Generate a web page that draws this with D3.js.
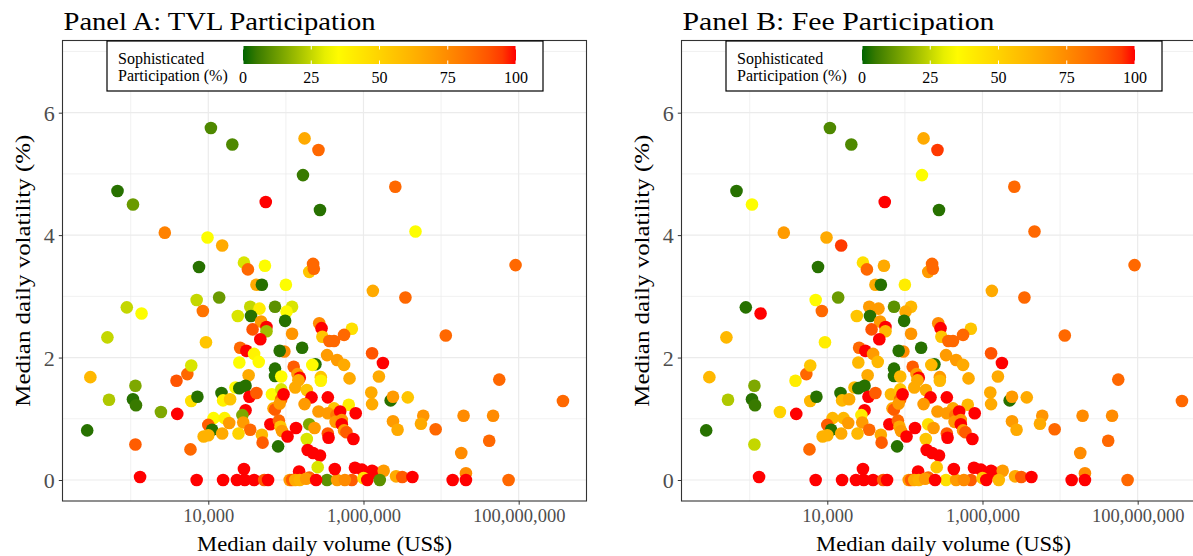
<!DOCTYPE html>
<html><head><meta charset="utf-8">
<script src="https://cdn.jsdelivr.net/npm/d3@7"></script>
<style>body{margin:0;background:#fff;overflow:hidden}svg{display:block}text{font-family:"Liberation Serif","Times New Roman",serif}</style>
</head><body><svg id="c" width="1193" height="556"></svg>
<script>
const volume=[1.08e4,2.04e4,1.74e5,2.63e5,1.66e5,6.76e2,1.07e3,5.50e4,2.75e5,2.57e6,4.68e6,2.75e3,9.77e3,1.51e4,7.59e3,2.88e4,3.24e4,5.37e4,4.17e4,4.90e4,1.00e5,2.00e5,2.24e5,2.29e5,9.12e7,1.32e6,
8.91e2,1.38e3,7.08e3,1.38e4,8.51e3,5.01e2,9.33e3,3.47e4,4.57e4,7.24e4,1.20e5,1.02e5,2.40e4,3.55e4,9.77e4,4.79e4,5.62e4,5.62e4,3.72e4,4.68e4,1.20e5,2.69e5,2.88e5,2.95e5,2.57e4,3.09e4,3.89e4,9.55e4,8.32e4,1.62e5,3.63e5,4.17e5,7.08e5,5.62e5,3.47e6,1.15e7,1.29e6,1.78e6,3.39e5,4.57e5,5.62e5,
4.47e4,2.51e4,1.26e5,7.24e4,7.24e4,8.71e4,1.41e5,1.51e5,2.40e5,2.19e5,2.82e5,2.82e5,3.31e4,1.45e5,1.32e5,3.02e2,1.15e3,5.25e2,1.07e3,1.17e3,2.45e3,3.89e3,5.37e3,6.03e3,6.03e3,7.24e3,3.98e3,1.48e4,1.55e4,1.91e4,2.24e4,2.51e4,3.02e4,3.39e4,4.17e4,6.61e4,8.71e4,8.71e4,6.92e4,7.24e4,8.32e4,9.33e4,1.86e5,2.14e5,3.47e5,1.74e5,6.46e5,1.26e6,1.29e6,2.24e6,2.40e6,3.72e6,3.72e8,5.62e7,1.58e6,6.61e5,2.63e5,4.17e5,3.47e5,4.47e5,5.01e5,7.94e5,3.02e4,2.75e4,1.17e4,1.62e4,
1.00e4,1.12e4,1.86e4,2.82e4,3.47e4,2.45e4,1.51e4,8.71e3,1.00e4,4.90e4,5.01e4,6.31e4,8.13e4,8.51e4,8.91e4,1.05e5,1.35e5,7.94e4,1.86e5,2.00e5,2.34e5,1.91e5,2.24e5,2.75e5,4.37e5,5.25e5,5.25e5,2.40e6,2.75e6,5.89e6,5.50e6,8.51e6,1.95e7,4.68e7,4.17e7,1.82e7,3.47e5,3.55e5,5.62e5,6.03e5,7.41e5,2.75e2,1.15e3,5.89e3,
1.32e3,7.08e3,1.55e4,2.34e4,2.95e4,2.88e4,3.89e4,5.25e4,5.89e4,1.12e5,1.20e5,1.48e5,1.32e5,1.51e5,2.00e5,2.57e5,3.39e5,1.82e5,2.45e5,4.57e5,7.08e5,4.27e5,7.76e5,9.55e5,1.29e6,1.45e6,1.82e6,2.63e6,3.16e6,4.27e6,1.41e7,2.09e7,2.09e7,7.41e7,1.00e6,1.12e6,1.62e6,5.75e5];
const volatility=[5.75,5.48,5.58,5.39,4.98,4.72,4.50,4.54,4.41,4.79,4.06,4.04,3.96,3.83,3.48,3.55,3.44,3.50,3.19,3.19,3.19,3.40,3.53,3.45,3.51,3.09,
2.82,2.72,2.94,2.98,2.76,2.33,2.25,2.83,2.80,2.83,2.83,2.75,2.68,2.68,2.60,2.59,2.50,2.43,2.46,2.30,2.39,2.56,2.48,2.34,2.16,2.11,2.06,2.10,2.11,2.16,2.27,2.27,2.47,2.37,2.98,2.36,2.07,1.91,2.04,1.96,1.88,
1.93,1.92,1.85,1.82,1.70,1.69,1.73,1.67,1.89,1.88,1.68,1.62,1.71,1.63,1.51,1.68,1.54,1.31,1.32,1.22,1.11,1.62,1.73,1.87,1.29,1.36,1.08,1.42,1.30,1.32,1.51,1.50,1.54,1.36,1.42,1.40,1.48,1.32,1.17,1.15,1.25,1.40,1.47,1.35,1.35,1.24,1.23,1.43,1.24,1.30,1.36,1.35,1.29,1.64,1.69,1.66,1.12,1.17,1.09,1.06,1.12,1.09,1.14,1.06,1.01,1.01,
0.90,0.82,0.93,0.94,0.82,0.76,0.76,0.71,0.73,0.74,0.61,0.91,0.97,0.87,0.80,0.71,0.85,0.55,0.67,0.91,0.85,0.49,0.44,0.40,0.95,0.98,0.91,0.96,0.82,1.05,0.92,0.83,1.05,1.05,0.64,0.44,0.76,0.69,0.81,0.78,0.67,0.81,0.58,0.50,
0.05,0,0,0,0,0.18,0,0,0,0,0,0.14,0,0,0.04,0.21,0,0.02,0,0,0,0.18,0.20,0.17,0.15,0.11,0.15,0.06,0.05,0.05,0,0.11,0,0,0.03,0,0,0];
const tvlShare=[8,8,65,85,5,3,12,100,3,85,33,78,33,65,3,28,85,33,65,3,33,55,85,85,85,65,
25,33,25,12,82,25,55,25,40,10,28,35,28,3,3,70,100,20,90,100,72,75,100,55,85,100,38,75,3,3,85,85,45,85,85,85,90,100,70,70,65,
35,33,88,3,3,35,70,100,3,35,55,38,65,65,65,60,15,22,3,5,15,90,85,28,45,3,100,3,38,55,35,3,3,100,88,35,28,85,65,88,70,100,55,100,100,70,40,65,65,3,70,55,85,85,65,65,70,55,70,80,100,100,100,15,35,38,
88,3,70,70,85,50,65,62,62,60,88,100,85,55,70,100,100,3,28,15,70,100,100,100,70,72,100,70,65,72,65,85,75,75,85,75,88,100,70,88,100,3,88,85,
100,100,100,100,100,100,100,88,100,70,88,100,65,62,85,28,10,70,100,70,88,100,100,100,100,100,70,65,88,100,100,75,100,85,45,100,10,75];
const feeShare=[8,8,65,95,33,3,33,100,3,85,85,70,65,95,3,45,85,65,65,3,40,70,85,85,85,65,
3,100,35,12,85,60,40,70,70,10,60,65,55,3,3,70,100,60,90,100,72,75,100,55,85,100,70,75,3,3,85,85,55,85,85,85,90,100,70,70,65,
60,60,88,3,3,60,70,100,3,60,70,60,65,65,65,60,15,22,3,5,50,40,85,55,60,3,100,3,60,65,60,3,3,100,88,60,55,85,65,88,70,100,65,100,100,70,60,65,65,3,70,65,85,85,65,65,70,65,70,80,100,100,100,40,60,60,
88,3,70,70,85,60,65,62,62,65,88,100,85,65,70,100,100,3,55,45,70,100,100,100,70,72,100,70,65,72,65,85,75,75,85,75,88,100,70,88,100,3,25,85,
100,100,100,100,100,100,100,88,100,70,88,100,65,62,85,55,45,70,100,70,88,100,100,100,100,100,70,65,88,100,100,75,100,85,55,100,60,75];
const xTicks=[1e4,1e6,1e8], xMinor=[1e3,1e5,1e7];
const yTicks=[0,2,4,6], yMinor=[1,3,5,7];
const legendTicks=[0,25,50,75,100];
const panelTitles=["Panel A: TVL Participation","Panel B: Fee Participation"];

const color=d3.scaleLinear().domain([0,100/3,200/3,100])
  .range(["#006400","#FFFF00","#FFA500","#FF0000"]).interpolate(d3.interpolateLab);
const svg=d3.select("#c");
const defs=svg.append("defs");
const grad=defs.append("linearGradient").attr("id","lg").attr("x1","0%").attr("x2","100%");
d3.range(0,101,5).forEach(v=>grad.append("stop").attr("offset",v+"%").attr("stop-color",color(v)));

const panelShift=[0,619];
const pLeft=62.5,pRight=586.5,pTop=40.5,pBottom=501;

panelShift.forEach((dx,i)=>{
  const share=i===0?tvlShare:feeShare;
  const g=svg.append("g").attr("transform",`translate(${dx},0)`);
  const x=d3.scaleLog().domain([10**2.121,10**8.874]).range([pLeft,pRight]);
  const y=d3.scaleLinear().domain([-0.343,7.179]).range([pBottom,pTop]);
  g.append("text").attr("x",63.5).attr("y",29.5).attr("font-size",25)
    .attr("textLength",312).attr("lengthAdjust","spacingAndGlyphs").text(panelTitles[i]);
  g.selectAll(".gxm").data(xMinor).join("line").attr("x1",d=>x(d)).attr("x2",d=>x(d)).attr("y1",pTop).attr("y2",pBottom).attr("stroke","#EBEBEB").attr("stroke-width",0.7);
  g.selectAll(".gym").data(yMinor).join("line").attr("y1",d=>y(d)).attr("y2",d=>y(d)).attr("x1",pLeft).attr("x2",pRight).attr("stroke","#EBEBEB").attr("stroke-width",0.7);
  g.selectAll(".gx").data(xTicks).join("line").attr("x1",d=>x(d)).attr("x2",d=>x(d)).attr("y1",pTop).attr("y2",pBottom).attr("stroke","#EBEBEB").attr("stroke-width",1.2);
  g.selectAll(".gy").data(yTicks).join("line").attr("y1",d=>y(d)).attr("y2",d=>y(d)).attr("x1",pLeft).attr("x2",pRight).attr("stroke","#EBEBEB").attr("stroke-width",1.2);
  const idx=d3.range(volume.length);
  g.append("g").selectAll("circle").data(idx).join("circle")
    .attr("cx",k=>x(volume[k])).attr("cy",k=>y(volatility[k])).attr("r",6.3)
    .attr("fill",k=>color(share[k]));
  g.append("rect").attr("x",pLeft).attr("y",pTop).attr("width",pRight-pLeft).attr("height",pBottom-pTop)
    .attr("fill","none").attr("stroke","#333").attr("stroke-width",1.1);
  const xa=g.append("g").attr("transform",`translate(0,${pBottom})`)
    .call(d3.axisBottom(x).tickValues(xTicks).tickFormat(d3.format(",")).tickSize(3.7).tickPadding(4));
  const ya=g.append("g").attr("transform",`translate(${pLeft},0)`)
    .call(d3.axisLeft(y).tickValues(yTicks).tickFormat(d3.format("d")).tickSize(3.7).tickPadding(4));
  [xa,ya].forEach(a=>{a.select(".domain").remove();a.selectAll("line").attr("stroke","#333");
    a.selectAll("text").attr("font-family","Liberation Serif").attr("font-size",18.5).attr("fill","#4D4D4D");});
  ya.selectAll("text").attr("font-size",22).attr("dy","0.35em");
  g.append("text").attr("x",(pLeft+pRight)/2).attr("y",551).attr("text-anchor","middle").attr("font-size",22)
    .attr("textLength",255).attr("lengthAdjust","spacingAndGlyphs").text("Median daily volume (US$)");
  g.append("text").attr("transform",`translate(30,${(pTop+pBottom)/2}) rotate(-90)`).attr("text-anchor","middle").attr("font-size",22)
    .attr("textLength",272).attr("lengthAdjust","spacingAndGlyphs").text("Median daily volatility (%)");
  const lg=g.append("g").attr("transform",`translate(107,41)`);
  lg.append("rect").attr("width",436).attr("height",50).attr("fill","#fff").attr("stroke","#000").attr("stroke-width",1.2);
  lg.append("text").attr("x",11).attr("y",23).attr("font-size",16).text("Sophisticated");
  lg.append("text").attr("x",11).attr("y",40).attr("font-size",16).text("Participation (%)");
  const lx=d3.scaleLinear().domain([0,100]).range([136,409]);
  lg.append("rect").attr("x",lx(0)).attr("y",5).attr("width",lx(100)-lx(0)).attr("height",18).attr("fill","url(#lg)");
  lg.selectAll(".lt").data(legendTicks).join("line").attr("x1",d=>lx(d)).attr("x2",d=>lx(d)).attr("y1",5).attr("y2",8.5).attr("stroke","#fff").attr("stroke-width",1);
  lg.selectAll(".lb").data(legendTicks).join("line").attr("x1",d=>lx(d)).attr("x2",d=>lx(d)).attr("y1",19.5).attr("y2",23).attr("stroke","#fff").attr("stroke-width",1);
  lg.selectAll(".ll").data(legendTicks).join("text").attr("x",d=>lx(d)).attr("y",42).attr("text-anchor","middle").attr("font-size",16).text(d=>d);
});
</script></body></html>
